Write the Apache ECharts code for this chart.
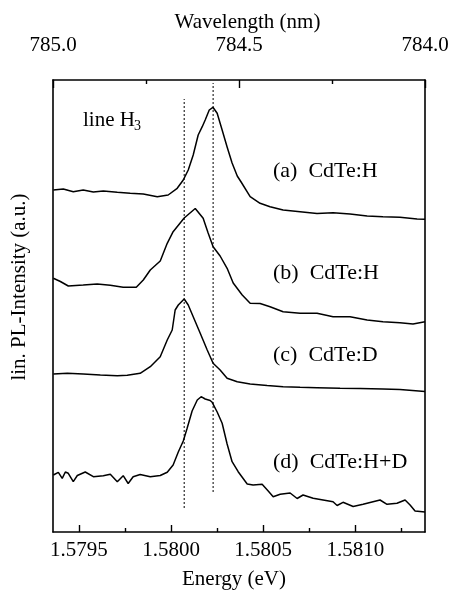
<!DOCTYPE html>
<html><head><meta charset="utf-8">
<script src="https://cdn.jsdelivr.net/npm/echarts@6/dist/echarts.min.js"></script>
<style>html,body{margin:0;padding:0;background:#fff}#c{width:451px;height:591px}</style>
</head><body><div id="c"></div>
<script>
const FONT = "'Liberation Serif','Times New Roman',serif";

// Axis ranges / ticks
const energyMin = 1.579359, energyMax = 1.581378;
const energyTicks = [1.5795, 1.5800, 1.5805, 1.5810];
const energyMinorTicks = [1.57975, 1.58025, 1.58075, 1.58125];
const wavelengthMin = 784.0, wavelengthMax = 785.0;
const intensityMin = 0, intensityMax = 452;

// (a) CdTe:H
const aE = [1.579361,1.579415,1.579469,1.579523,1.579578,1.579632,1.579708,1.579778,1.579849,1.579925,1.579984,1.580033,1.580066,1.580093,1.580120,1.580147,1.580169,1.580185,1.580207,1.580227,1.580250,1.580277,1.580304,1.580331,1.580359,1.580380,1.580429,1.580483,1.580537,1.580608,1.580700,1.580792,1.580879,1.580971,1.581064,1.581150,1.581242,1.581335,1.581378];
const aI = [342,343,340.3,342,340,341,339.7,338.7,338,335.3,337,343.7,352,362,377,397,405.3,412,422,424.7,418.7,402,385,369,356,350,335.3,328.7,325.3,322,320.3,318.5,319.3,318,316,315.3,314.7,313,312.7];
// (b) CdTe:H
const bE = [1.579361,1.579399,1.579442,1.579523,1.579599,1.579670,1.579740,1.579811,1.579849,1.579887,1.579941,1.579979,1.580011,1.580071,1.580131,1.580174,1.580201,1.580228,1.580266,1.580304,1.580337,1.580386,1.580429,1.580483,1.580537,1.580608,1.580700,1.580792,1.580879,1.580971,1.581064,1.581150,1.581242,1.581313,1.581378];
const bI = [253.7,250.5,246,247,248,246.7,244.7,244.7,252,262,271,288.7,300.3,314,323.5,313.7,299,285.3,276,263.7,249,237,228.7,228.5,225.3,220.3,218.7,218.7,215.3,215.3,212,210.3,209.3,208,210.3];
// (c) CdTe:D
const cE = [1.579361,1.579437,1.579523,1.579616,1.579708,1.579762,1.579832,1.579887,1.579941,1.579979,1.580006,1.580022,1.580039,1.580071,1.580093,1.580120,1.580158,1.580196,1.580228,1.580266,1.580304,1.580359,1.580429,1.580521,1.580608,1.580700,1.580792,1.580917,1.581026,1.581150,1.581242,1.581378];
const cI = [158,158.7,158,157,156.3,156.7,158.7,165.3,175.3,192,202,222,227,233,227,215.3,198.7,182,168.7,162,153.7,150.3,148,146.5,145.3,144.7,144.3,143.7,143.5,143,142.5,140.5];
// (d) CdTe:H+D
const dE = [1.579361,1.579388,1.579409,1.579426,1.579442,1.579469,1.579491,1.579534,1.579578,1.579632,1.579670,1.579708,1.579740,1.579767,1.579794,1.579832,1.579887,1.579941,1.579979,1.580011,1.580039,1.580066,1.580087,1.580114,1.580142,1.580163,1.580185,1.580212,1.580223,1.580250,1.580277,1.580304,1.580331,1.580364,1.580413,1.580445,1.580494,1.580527,1.580554,1.580592,1.580646,1.580684,1.580716,1.580771,1.580825,1.580879,1.580901,1.580933,1.580988,1.581042,1.581096,1.581134,1.581172,1.581226,1.581270,1.581297,1.581324,1.581378];
const dI = [57,59.7,53.7,60,58.7,50.3,56.5,60,55.3,56.3,57.7,50.3,56.3,48.5,55.3,57.5,55.3,56.5,59.7,67,80,91,103.7,121,132,135.3,133,131.5,129.7,120,108.7,88,70.3,60.3,48,47,47.7,41,35.3,37.7,39,33.5,37,33.7,32,30.3,26.5,29.7,25.5,27.7,30.3,32,27.7,28.7,32,27,21,20];

// dotted reference lines
const refE = [1.580071, 1.580228];
const refLow = [24, 40];
const refHigh = [433, 449];

const labels = ['(a)  CdTe:H', '(b)  CdTe:H', '(c)  CdTe:D', '(d)  CdTe:H+D'];

const zip = (xs, ys) => xs.map((x, i) => [x, ys[i]]);
const curve = (xs, ys) => ({
  type: 'line', xAxisIndex: 0, yAxisIndex: 0, data: zip(xs, ys), showSymbol: false,
  symbol: 'none', silent: true, animation: false,
  lineStyle: { color: '#000', width: 1.5 }
});
const refLine = i => ({
  type: 'line', xAxisIndex: 0, yAxisIndex: 0, showSymbol: false, symbol: 'none',
  silent: true, animation: false,
  data: [[refE[i], refLow[i]], [refE[i], refHigh[i]]],
  lineStyle: { color: '#000', width: 1, type: [2, 2] }
});

const txt = (text, x, y, size, align, rot) => ({
  type: 'text', x: x, y: y, silent: true, rotation: rot || 0,
  style: { text: text, fill: '#000', font: size + 'px ' + FONT,
    textAlign: align || 'left', align: align || 'left',
    textVerticalAlign: 'middle', verticalAlign: 'middle' }
});

const chart = echarts.init(document.getElementById('c'), null, { renderer: 'canvas' });
chart.setOption({
  animation: false,
  backgroundColor: '#fff',
  grid: { left: 53, right: 26, top: 80, bottom: 59, containLabel: false, outerBoundsMode: 'none' },
  xAxis: [
    {
      type: 'value', position: 'bottom', min: energyMin, max: energyMax,
      axisLine: { show: true, lineStyle: { color: '#000', width: 1.6 } },
      axisTick: { show: true, inside: true, length: 7, customValues: energyTicks, lineStyle: { color: '#000', width: 1.4 } },
      axisLabel: { show: true, customValues: energyTicks, formatter: v => v.toFixed(4),
        fontSize: 21, fontFamily: FONT, color: '#000', margin: 8 },
      splitLine: { show: false }
    },
    {
      type: 'value', position: 'bottom', min: energyMin, max: energyMax,
      axisLine: { show: false },
      axisTick: { show: true, inside: true, length: 4, customValues: energyMinorTicks, lineStyle: { color: '#000', width: 1.4 } },
      axisLabel: { show: false },
      splitLine: { show: false }
    },
    {
      type: 'value', position: 'top', min: wavelengthMin, max: wavelengthMax, inverse: true, interval: 0.5,
      axisLine: { show: true, lineStyle: { color: '#000', width: 1.6 } },
      axisTick: { show: true, inside: true, length: 8, lineStyle: { color: '#000', width: 1.4 } },
      minorTick: { show: true, splitNumber: 2, length: 4, lineStyle: { color: '#000', width: 1.4 } },
      axisLabel: { show: true, formatter: v => v.toFixed(1), showMinLabel: true, showMaxLabel: true,
        fontSize: 21, fontFamily: FONT, color: '#000', margin: 24 },
      splitLine: { show: false }
    }
  ],
  yAxis: [
    {
      type: 'value', position: 'left', min: intensityMin, max: intensityMax,
      axisLine: { show: true, lineStyle: { color: '#000', width: 1.6 } },
      axisTick: { show: false }, axisLabel: { show: false }, splitLine: { show: false }
    },
    {
      type: 'value', position: 'right', min: intensityMin, max: intensityMax,
      axisLine: { show: true, lineStyle: { color: '#000', width: 1.6 } },
      axisTick: { show: false }, axisLabel: { show: false }, splitLine: { show: false }
    }
  ],
  series: [curve(aE, aI), curve(bE, bI), curve(cE, cI), curve(dE, dI), refLine(0), refLine(1)],
  graphic: [
    txt('Wavelength (nm)', 247.5, 22, 21, 'center'),
    txt('Energy (eV)', 234, 579, 21, 'center'),
    txt('lin. PL-Intensity (a.u.)', 19, 287, 21, 'center', Math.PI / 2),
    txt('line H', 83, 120, 21),
    txt('3', 134, 126, 14),
    txt(labels[0], 273, 171, 22),
    txt(labels[1], 273, 273, 22),
    txt(labels[2], 273, 355, 22),
    txt(labels[3], 273, 462, 22)
  ]
});
</script></body></html>
